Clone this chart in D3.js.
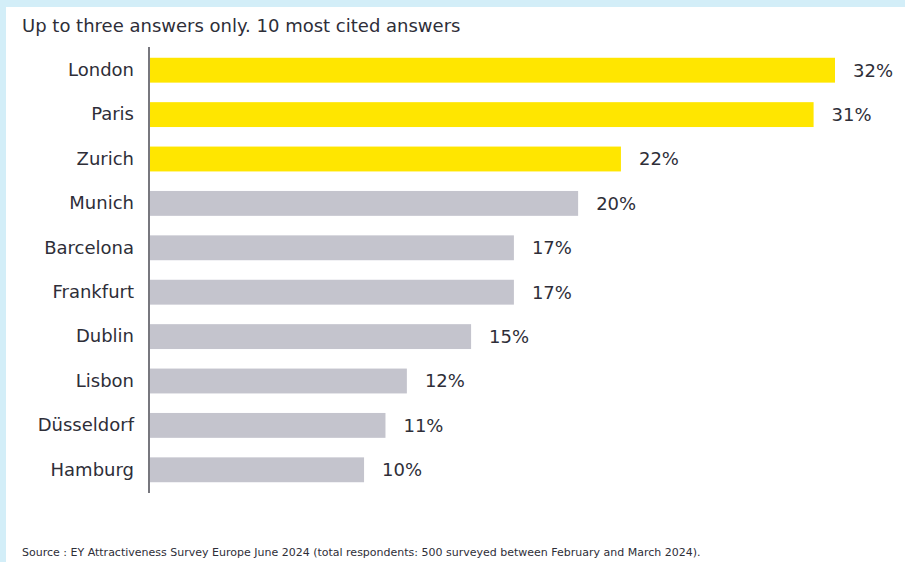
<!DOCTYPE html>
<html>
<head>
<meta charset="utf-8">
<script src="https://cdn.jsdelivr.net/npm/d3@7"></script>
<style>
  html, body { margin: 0; padding: 0; background: #d3eef8; }
  svg { display: block; }
  text { font-family: "DejaVu Sans", Verdana, sans-serif; fill: #2e2e38; }
</style>
</head>
<body>
<svg id="chart" width="905" height="562"></svg>
<script>
// Daten
const cities = ['London', 'Paris', 'Zurich', 'Munich', 'Barcelona', 'Frankfurt', 'Dublin', 'Lisbon', 'Düsseldorf', 'Hamburg'];
const shares = [32, 31, 22, 20, 17, 17, 15, 12, 11, 10];
const highlighted = ['London', 'Paris', 'Zurich'];
const titleText = 'Up to three answers only. 10 most cited answers';
const sourceText = 'Source : EY Attractiveness Survey Europe June 2024 (total respondents: 500 surveyed between February and March 2024).';

const svg = d3.select('#chart');

// weisser Hintergrund mit hellblauem Rand oben/links
svg.append('rect')
    .attr('x', 6).attr('y', 7)
    .attr('width', 905).attr('height', 562)
    .attr('fill', '#ffffff');

const rows = cities.map((c, i) => ({ city: c, value: shares[i] }));

// Skalen
const xScale = d3.scaleLinear()
    .domain([0, 32])
    .range([150, 835]);

const yScale = d3.scaleBand()
    .domain(cities)
    .range([48, 492])
    .paddingInner(0.44)
    .paddingOuter(0.22);

// Titel
svg.append('text')
    .attr('x', 22)
    .attr('y', 32)
    .style('font-size', '18px')
    .text(titleText);

// Balken
svg.selectAll('.bar')
    .data(rows)
    .enter()
    .append('rect')
    .attr('class', 'bar')
    .attr('x', xScale(0))
    .attr('y', d => yScale(d.city))
    .attr('width', d => xScale(d.value) - xScale(0))
    .attr('height', yScale.bandwidth())
    .attr('fill', d => highlighted.includes(d.city) ? '#ffe600' : '#c4c4cd');

// Y-Achse (nur Beschriftung)
const yAxis = svg.append('g')
    .attr('transform', `translate(${xScale(0) - 1},0)`)
    .call(d3.axisLeft(yScale).tickSize(0).tickPadding(15));
yAxis.select('.domain').remove();
yAxis.selectAll('text')
    .style('font-size', '18px')
    .style('font-family', '"DejaVu Sans", Verdana, sans-serif')
    .attr('fill', '#2e2e38');

svg.append('line')
    .attr('x1', xScale(0) - 1).attr('x2', xScale(0) - 1)
    .attr('y1', 47).attr('y2', 493)
    .attr('stroke', '#2e2e38')
    .attr('stroke-width', 1.3);

// Werte an Balken
svg.selectAll('.bar-label')
    .data(rows)
    .enter()
    .append('text')
    .attr('class', 'bar-label')
    .attr('x', d => xScale(d.value) + 18)
    .attr('y', d => yScale(d.city) + yScale.bandwidth() / 2)
    .attr('dy', '0.35em')
    .style('font-size', '18px')
    .text(d => d.value + '%');

// Quelle
svg.append('text')
    .attr('x', 22)
    .attr('y', 556)
    .style('font-size', '11px')
    .text(sourceText);
</script>
</body>
</html>
